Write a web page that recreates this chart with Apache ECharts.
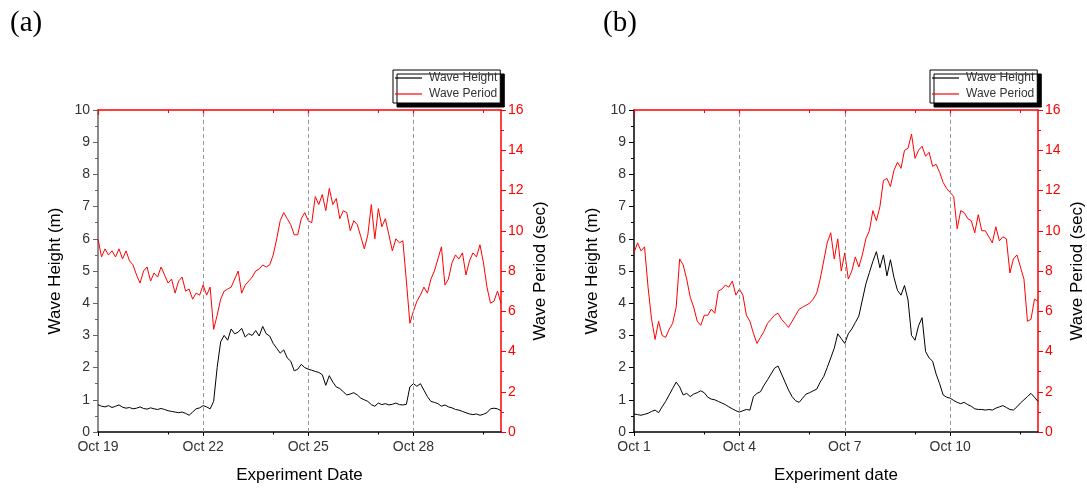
<!DOCTYPE html>
<html>
<head>
<meta charset="utf-8">
<title>Wave Height and Wave Period</title>
<script src="https://cdn.jsdelivr.net/npm/echarts@6/dist/echarts.min.js"></script>
<style>
  html, body { margin: 0; padding: 0; background: #fff; }
  #chart { width: 1087px; height: 489px; }
</style>
</head>
<body>
<div id="chart"></div>
<script>
// Sampling step of the records, in days
const STEP = 0.1;
const X_MAX = 11.5;

// Date axis: labelled days (every 3 days) and the extra small ticks
const DATE_TICKS = [0, 3, 6, 9];
const MINOR_DATE_TICKS = [2, 5, 8, 11];
const A_START_DAY = 19;   // Oct 19
const B_START_DAY = 1;    // Oct 1

// (a) Oct 19 - Oct 30: wave height (m)
const A_HEIGHT = [
  0.85,0.80,0.78,0.82,0.76,0.80,0.84,0.77,0.74,0.76,
  0.72,0.74,0.78,0.73,0.71,0.75,0.72,0.70,0.73,0.70,
  0.66,0.64,0.62,0.60,0.62,0.58,0.52,0.62,0.72,0.75,
  0.82,0.78,0.72,0.95,2.00,2.80,3.00,2.85,3.20,3.05,
  3.10,3.22,2.95,3.05,3.00,3.15,2.98,3.28,3.05,2.98,
  2.75,2.60,2.45,2.55,2.30,2.20,1.90,1.95,2.10,2.00,
  1.95,1.92,1.88,1.85,1.78,1.45,1.75,1.55,1.40,1.35,
  1.25,1.15,1.18,1.22,1.15,1.05,1.00,0.95,0.85,0.80,
  0.90,0.85,0.88,0.84,0.86,0.90,0.85,0.84,0.86,1.40,
  1.50,1.42,1.50,1.30,1.10,0.95,0.92,0.88,0.80,0.84,
  0.78,0.75,0.70,0.68,0.64,0.60,0.56,0.54,0.56,0.52,
  0.55,0.60,0.72,0.74,0.72,0.66
];

// (a) wave period (sec)
const A_PERIOD = [
  9.6,8.7,9.1,8.8,9.0,8.7,9.1,8.6,9.0,8.5,
  8.3,7.8,7.4,8.0,8.2,7.5,7.9,7.7,8.2,7.8,
  7.4,7.6,6.9,7.5,7.7,7.0,7.1,6.6,6.9,6.8,
  7.3,6.8,7.2,5.1,5.8,6.6,7.0,7.1,7.2,7.6,
  8.0,6.9,7.3,7.5,7.7,8.0,8.1,8.3,8.2,8.3,
  8.8,9.6,10.5,10.9,10.6,10.3,9.8,9.8,10.6,10.9,
  10.5,10.4,11.7,11.3,11.8,11.0,12.1,11.3,11.6,10.6,
  11.0,10.9,10.0,10.5,10.3,9.7,9.1,9.8,11.3,9.6,
  11.1,10.2,10.6,9.8,9.0,9.6,9.4,9.5,7.5,5.4,
  6.0,6.5,6.8,7.2,6.9,7.6,8.0,8.6,9.2,7.3,
  7.6,8.4,8.8,8.6,8.9,7.8,8.5,8.9,8.7,9.3,
  8.4,7.2,6.4,6.5,7.0,6.4
];

// (b) Oct 1 - Oct 12: wave height (m)
const B_HEIGHT = [
  0.56,0.54,0.52,0.55,0.58,0.64,0.68,0.60,0.78,0.95,
  1.15,1.35,1.55,1.40,1.15,1.20,1.10,1.18,1.22,1.28,
  1.22,1.08,1.02,1.00,0.95,0.90,0.85,0.78,0.72,0.66,
  0.62,0.66,0.70,0.68,1.10,1.20,1.25,1.45,1.62,1.80,
  1.98,2.05,1.80,1.55,1.30,1.10,0.97,0.92,1.05,1.18,
  1.22,1.28,1.33,1.55,1.72,2.00,2.30,2.60,3.05,2.90,
  2.75,3.05,3.20,3.40,3.60,4.10,4.60,4.95,5.30,5.60,
  5.10,5.50,4.85,5.35,4.80,4.40,4.25,4.55,4.10,3.00,
  2.85,3.30,3.55,2.50,2.30,2.20,1.80,1.50,1.15,1.08,
  1.05,0.98,0.92,0.88,0.92,0.85,0.80,0.72,0.70,0.70,
  0.68,0.70,0.68,0.74,0.78,0.82,0.76,0.70,0.68,0.78,
  0.90,1.00,1.10,1.20,1.08,0.95
];

// (b) wave period (sec)
const B_PERIOD = [
  8.9,9.4,9.0,9.2,7.2,5.6,4.6,5.5,4.8,4.7,
  5.1,5.4,6.2,8.6,8.3,7.6,6.7,6.2,5.5,5.3,
  5.8,5.8,6.1,5.9,7.0,7.1,7.3,7.2,7.5,6.8,
  7.1,6.8,5.8,5.5,4.9,4.4,4.7,5.0,5.4,5.6,
  5.8,5.9,5.6,5.4,5.2,5.5,5.8,6.1,6.2,6.3,
  6.4,6.6,6.9,7.6,8.5,9.4,9.9,8.6,9.6,8.0,
  8.9,7.6,8.0,8.7,8.2,8.8,9.6,10.0,11.0,10.5,
  11.2,12.5,12.6,12.2,13.0,13.4,13.1,14.0,14.1,14.8,
  13.6,14.0,14.2,13.7,13.9,13.2,13.3,12.9,12.4,12.1,
  11.9,11.7,10.1,11.0,10.9,10.6,10.5,9.9,10.8,10.0,
  10.0,9.7,9.4,10.2,9.5,9.7,9.6,7.9,8.6,8.8,
  8.2,7.6,5.5,5.6,6.6,6.5
];

const FONT = 'Liberation Sans, Arial, sans-serif';
const RED = '#ff0000';

function toPoints(values) {
  return values.map((v, i) => [+(i * STEP).toFixed(2), v]);
}

// Four x axes per panel: labelled bottom axis, its small ticks, and the red top frame with its ticks
function dateAxes(gridIndex, startDay, name) {
  const common = { type: 'value', gridIndex: gridIndex, min: 0, max: X_MAX, splitLine: { show: false } };
  return [
    Object.assign({}, common, {
      position: 'bottom',
      axisLine: { show: true, onZero: false, lineStyle: { color: '#000', width: 1.5 } },
      axisTick: { show: true, customValues: DATE_TICKS, length: 4, lineStyle: { color: '#000', width: 1 } },
      axisLabel: {
        customValues: DATE_TICKS, margin: 8, fontSize: 14, color: '#333', fontFamily: FONT,
        formatter: v => 'Oct ' + (startDay + Math.round(v))
      },
      name: name, nameLocation: 'middle', nameGap: 35,
      nameTextStyle: { fontSize: 17, color: '#000', fontFamily: FONT }
    }),
    Object.assign({}, common, {
      position: 'bottom',
      axisLine: { show: false, onZero: false },
      axisTick: { show: true, customValues: MINOR_DATE_TICKS, length: 2.5, lineStyle: { color: '#000', width: 1 } },
      axisLabel: { show: false }
    }),
    Object.assign({}, common, {
      position: 'top',
      axisLine: { show: true, onZero: false, lineStyle: { color: RED, width: 1.5 } },
      axisTick: { show: true, inside: true, customValues: DATE_TICKS, length: 5, lineStyle: { color: RED, width: 1.2 } },
      axisLabel: { show: false }
    }),
    Object.assign({}, common, {
      position: 'top',
      axisLine: { show: false, onZero: false },
      axisTick: { show: true, inside: true, customValues: MINOR_DATE_TICKS, length: 3, lineStyle: { color: RED, width: 1 } },
      axisLabel: { show: false }
    })
  ];
}

function heightAxis(gridIndex, lineColor, nameGap) {
  return {
    type: 'value', gridIndex: gridIndex, position: 'left', min: 0, max: 10, interval: 1,
    axisLine: { show: true, onZero: false, lineStyle: { color: lineColor, width: 1.5 } },
    axisTick: { show: true, length: 5, lineStyle: { color: lineColor } },
    minorTick: { show: true, splitNumber: 2, length: 3, lineStyle: { color: lineColor } },
    axisLabel: { margin: 8, fontSize: 14, color: '#333', fontFamily: FONT },
    splitLine: { show: false }, minorSplitLine: { show: false },
    name: 'Wave Height (m)', nameLocation: 'middle', nameGap: nameGap,
    nameTextStyle: { fontSize: 17, color: '#000', fontFamily: FONT }
  };
}

function periodAxis(gridIndex, nameGap) {
  return {
    type: 'value', gridIndex: gridIndex, position: 'right', min: 0, max: 16, interval: 2,
    axisLine: { show: true, onZero: false, lineStyle: { color: RED, width: 1.5 } },
    axisTick: { show: true, length: 5, lineStyle: { color: RED } },
    minorTick: { show: true, splitNumber: 2, length: 3, lineStyle: { color: RED } },
    axisLabel: { margin: 7, fontSize: 14, color: RED, fontFamily: FONT },
    splitLine: { show: false }, minorSplitLine: { show: false },
    name: 'Wave Period (sec)', nameLocation: 'middle', nameGap: nameGap,
    nameTextStyle: { fontSize: 17, color: '#000', fontFamily: FONT }
  };
}

// Dashed day markers at Oct +3, +6, +9
const dayMarkers = {
  silent: true, symbol: ['none', 'none'], animation: false,
  label: { show: false },
  lineStyle: { color: '#999', type: [4, 3], width: 1 },
  data: DATE_TICKS.filter(d => d > 0).map(d => ({ xAxis: d }))
};

function lineSeries(name, values, xAxisIndex, yAxisIndex, color, markers) {
  const s = {
    name: name, type: 'line', xAxisIndex: xAxisIndex, yAxisIndex: yAxisIndex,
    data: toPoints(values), showSymbol: false, symbol: 'none',
    lineStyle: { color: color, width: 1 }, itemStyle: { color: color },
    animation: false, z: 3
  };
  if (markers) s.markLine = markers;
  return s;
}

function legendAt(left) {
  return {
    left: left, top: 70, orient: 'vertical',
    data: ['Wave Height', 'Wave Period'],
    icon: 'rect', itemWidth: 27, itemHeight: 1.2, itemGap: 2,
    padding: [1, 3, 2, 2],
    backgroundColor: '#fff', borderColor: '#000', borderWidth: 1, borderRadius: 0,
    shadowColor: '#000', shadowBlur: 0, shadowOffsetX: 4, shadowOffsetY: 4,
    textStyle: { fontSize: 12, color: '#333', fontFamily: FONT, lineHeight: 14, padding: [0, 0, 0, 2] },
    selectedMode: false
  };
}

const chart = echarts.init(document.getElementById('chart'), null, { renderer: 'canvas' });
chart.setOption({
  backgroundColor: '#fff',
  animation: false,
  title: [
    { text: '(a)', left: 10, top: 9, padding: 0,
      textStyle: { fontFamily: 'Liberation Serif, Times New Roman, serif', fontSize: 29, fontWeight: 'normal', color: '#000' } },
    { text: '(b)', left: 603, top: 9, padding: 0,
      textStyle: { fontFamily: 'Liberation Serif, Times New Roman, serif', fontSize: 29, fontWeight: 'normal', color: '#000' } }
  ],
  legend: [legendAt(393), legendAt(930)],
  grid: [
    { left: 98, top: 110, width: 403, height: 323 },
    { left: 634, top: 110, width: 404, height: 323 }
  ],
  xAxis: [].concat(
    dateAxes(0, A_START_DAY, 'Experiment Date'),
    dateAxes(1, B_START_DAY, 'Experiment date')
  ),
  yAxis: [
    heightAxis(0, '#666', 34),
    periodAxis(0, 31),
    heightAxis(1, '#000', 33),
    periodAxis(1, 31)
  ],
  series: [
    lineSeries('Wave Height', A_HEIGHT, 0, 0, '#000', dayMarkers),
    lineSeries('Wave Period', A_PERIOD, 0, 1, RED),
    lineSeries('Wave Height', B_HEIGHT, 4, 2, '#000', dayMarkers),
    lineSeries('Wave Period', B_PERIOD, 4, 3, RED)
  ]
});
</script>
</body>
</html>
